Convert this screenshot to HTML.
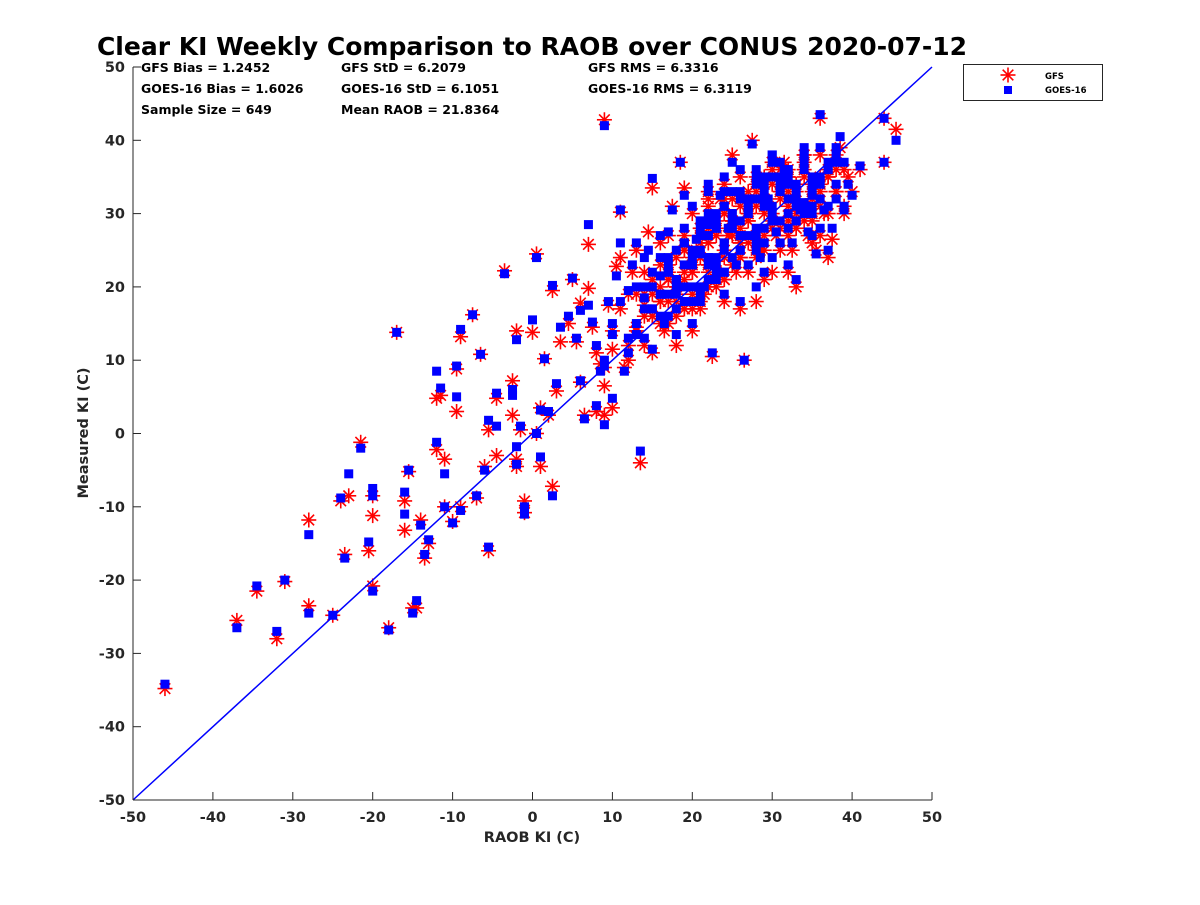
<!DOCTYPE html>
<html><head><meta charset="utf-8"><style>
body{margin:0;background:#fff;}
svg text{font-family:"DejaVu Sans","Liberation Sans",sans-serif;font-weight:bold;fill:#262626;}
</style></head><body>
<svg id="chart" width="1200" height="900" xmlns="http://www.w3.org/2000/svg">
<rect width="1200" height="900" fill="#fff"/>
<text x="532" y="55" font-size="25" text-anchor="middle" style="fill:#000">Clear KI Weekly Comparison to RAOB over CONUS 2020-07-12</text>
<g id="plot"></g>
<g id="axes"></g>
<g font-size="12.5">
<text x="141" y="72" style="fill:#000">GFS Bias = 1.2452</text>
<text x="141" y="93" style="fill:#000">GOES-16 Bias = 1.6026</text>
<text x="141" y="114" style="fill:#000">Sample Size = 649</text>
<text x="341" y="72" style="fill:#000">GFS StD = 6.2079</text>
<text x="341" y="93" style="fill:#000">GOES-16 StD = 6.1051</text>
<text x="341" y="114" style="fill:#000">Mean RAOB = 21.8364</text>
<text x="588" y="72" style="fill:#000">GFS RMS = 6.3316</text>
<text x="588" y="93" style="fill:#000">GOES-16 RMS = 6.3119</text>
</g>
<g>
<rect x="963.5" y="64.5" width="139" height="36" fill="#fff" stroke="#262626" stroke-width="1"/>
<g id="leg-gfs"></g>
<text x="1045" y="79" font-size="8.5" style="fill:#000">GFS</text>
<rect x="1004" y="86" width="8" height="8" fill="#0000ff"/>
<text x="1045" y="93" font-size="8.5" style="fill:#000">GOES-16</text>
</g>
</svg>
<script>
// Data (RAOB KI, GFS KI, GOES-16 KI)
const raob = [-46,-37,-34.5,-32,-31,-28,-28,-25,-24,-23.5,-23,-21.5,-20.5,-20,-20,-20,-18,-17,-16,-16,-15.5,-15,-14.5,-14,-13.5,-13,-12,-12,-11.5,-11,-11,-10,-9.5,-9.5,-9,-9,-7.5,-7,-6.5,-6,-5.5,-5.5,-4.5,-4.5,-3.5,-2.5,-2.5,-2,-2,-2,-1.5,-1,-1,0,0.5,0.5,1,1,1.5,2,2.5,2.5,3,3.5,4.5,5,5.5,6,6,6.5,7,7,7.5,8,8.5,9,9,9,9.5,10,10,10.5,11,11,11.5,12,12.5,13,13.5,14,14.5,15,15,16,16.5,17,17.5,18,18.5,19,19,20,20.5,21,21.5,22,22.5,23,23.5,24,24.5,25,25.5,26,26.5,27,27.5,28,28.5,29,29.5,30,30.5,31,31.5,32,32.5,33,33.5,34,34.5,35,35.5,36,36.5,37,37.5,38,38.5,39,39.5,40,41,44,44,45.5,
20,21,22,23,24,25,26,27,28,29,30,31,32,33,34,35,26,24,22,18,19,17,16,15,14,13,36,
18,19,20,21,22,23,24,25,26,27,28,29,30,31,32,33,34,35,36,37,38,
17,18,19,20,21,22,23,24,25,26,27,28,29,30,31,32,33,34,35,36,37,38,39,
16,17,18,19,20,21,22,23,24,25,26,27,28,29,30,31,32,33,34,35,
12,13,14,15,16,17,18,19,20,21,22,23,24,25,26,27,28,29,30,31,32,33,34,35,36,37,38,
14,15,16,17,18,19,20,21,22,23,24,25,26,27,28,29,30,
8,9,10,11,12,13,14,15,16,17,18,19,20,21,22,
22,24,26,28,30,32,34,36,38,21,23,25,27,29,31,33,35,37,39,
20,22,24,26,28,30,32,34,36];
const gfs = [-34.8,-25.5,-21.5,-28,-20.2,-23.5,-11.8,-24.8,-9.2,-16.5,-8.5,-1.2,-16,-11.2,-8.5,-20.8,-26.5,13.8,-13.2,-9.2,-5.2,-23.8,-23.8,-11.8,-17,-15,-2.2,4.8,5.2,-3.5,-10,-12,3,8.8,13.2,-10,16.2,-8.8,10.8,-4.5,0.5,-16,-3,4.8,22.2,7.2,2.5,-4.5,-3.5,14,0.5,-9.2,-10.8,13.8,0,24.5,3.5,-4.5,10.2,2.5,19.5,-7.2,5.8,12.5,15,21,12.5,17.8,7,2.5,25.8,19.8,14.5,3,9.5,2.5,6.5,42.8,17.5,3.5,11.5,22.8,30.2,24,9,19,22,14.5,-4,17.5,27.5,11,33.5,20,14,27,31,12,37,33.5,21,14,25,28,19,31,10.5,23.5,32,18,27,38,22,17,10,29,40,18,25,35,31,22,27,33,37,29,25,34,31,38,27,32,25,35,30,36,26.5,33,39,31,35,33,36,37,43,41.5,
22,24,26,20,25,29,24,33,27,21,30,25,36,28,31,29,27,30,28,24,27,22,26,19,22,25,43,
16,17,19,18,22,21,25,23,28,26,31,30,34,32,35,33,36,34,38,35,37,
18,20,22,24,26,23,28,30,27,32,29,34,31,36,33,35,30,37,32,34,30,33,36,
15,21,19,25,17,27,23,29,21,32,26,30,24,34,28,36,27,31,29,33,
10,14,12,16,18,15,20,17,23,19,26,22,21,28,24,30,26,32,29,34,31,28,35,30,33,35,38,
19,16,23,21,18,25,22,28,20,27,24,29,26,31,33,27,37,
11,9,14,17,12,19,16,21,18,23,20,25,22,17,28,
32,34,31,35,37,33,38,31,36,24,27,29,22,25,28,20,26,24,30,
30,33,32,35,25,28,22,30,27];
const goes = [-34.2,-26.5,-20.8,-27,-20,-24.5,-13.8,-24.8,-8.8,-17,-5.5,-2,-14.8,-8.5,-7.5,-21.5,-26.8,13.8,-11,-8,-5,-24.5,-22.8,-12.5,-16.5,-14.5,-1.2,8.5,6.2,-5.5,-10,-12.2,5,9.2,14.2,-10.5,16.2,-8.5,10.8,-5,1.8,-15.5,1,5.5,21.8,6,5.2,-4.2,-1.8,12.8,1,-10,-11,15.5,0,24,3.2,-3.2,10.2,3,20.2,-8.5,6.8,14.5,16,21.2,13,16.8,7.2,2,28.5,17.5,15.2,3.8,8.5,1.2,9.2,42,18,4.8,13.5,21.5,30.5,26,8.5,19.5,23,13.5,-2.4,18.5,25,11.5,34.8,21.5,15,27.5,30.5,13.5,37,32.5,20,15,26.5,29,20,30,11,24,32.5,19,28,37,23,18,10,30,39.5,20,24,34,32,24,27.5,33.5,36,30,26,33,30.5,38,27.5,32.5,24.5,34.5,30.5,37,28,32,40.5,30.5,34,32.5,36.5,37,43,40,
23,24.5,27,21,26,28,25,32,28,22,31,26,35,29,31.5,30,27,31,28.5,25,28,23,27,20,24,26,43.5,
17,18,20,19,23,22,26,24,29,27,32,31,35,33,36,34,37,35,39,36,38,
19,21,23,25,27,24,29,31,28,33,30,35,32,37,34,36,31,38,33,35,31,34,37,
16,22,20,26,18,28,24,30,22,33,27,31,25,35,29,37,28,32,30,34,
11,15,13,17,19,16,21,18,24,20,27,23,22,29,25,31,27,33,30,35,32,29,36,31,34,36,39,
20,17,24,22,19,26,23,29,21,28,25,30,27,32,34,28,38,
12,10,15,18,13,20,17,22,19,24,21,26,23,18,29,
33,35,32,36,38,34,39,32,37,25,28,30,23,26,29,21,27,25,31,
31,34,33,36,26,29,23,31,28];
const xTicks = [-50,-40,-30,-20,-10,0,10,20,30,40,50];
const yTicks = [-50,-40,-30,-20,-10,0,10,20,30,40,50];

const X0=133,X1=932,Y0=800,Y1=67;
const xs = v => X0 + (v+50)/100*(X1-X0);
const ys = v => Y0 - (v+50)/100*(Y0-Y1);
const NS="http://www.w3.org/2000/svg";
function mk(tag, attrs, parent){const e=document.createElementNS(NS,tag);for(const k in attrs)e.setAttribute(k,attrs[k]);parent.appendChild(e);return e;}
const plot=document.getElementById('plot'), axes=document.getElementById('axes');

function star(cx,cy,r,parent){
  const g=mk('g',{stroke:'#ff0000','stroke-width':1.6},parent);
  for(let i=0;i<4;i++){const a=i*Math.PI/4;mk('line',{x1:cx-r*Math.cos(a),y1:cy-r*Math.sin(a),x2:cx+r*Math.cos(a),y2:cy+r*Math.sin(a)},g);}
  return g;
}
const n=Math.min(raob.length,gfs.length,goes.length);
for(let i=0;i<n;i++){
  const g=star(xs(raob[i]),ys(gfs[i]),7.5,plot);
  
  
}
for(let i=0;i<n;i++){
  const r=mk('rect',{x:xs(raob[i])-4.5,y:ys(goes[i])-4.5,width:9,height:9,fill:'#0000ff'},plot);
  
  
}
const dl=mk('line',{x1:xs(-50),y1:ys(-50),x2:xs(50),y2:ys(50),stroke:'#0000ff','stroke-width':1.5},plot);



const lg=star(1008,75,7.5,document.getElementById('leg-gfs'));



const ax=mk('line',{x1:X0,y1:Y0,x2:X1,y2:Y0,stroke:'#262626','stroke-width':1},axes);


const ay=mk('line',{x1:X0,y1:Y0,x2:X0,y2:Y1,stroke:'#262626','stroke-width':1},axes);


xTicks.forEach(v=>{
  mk('line',{x1:xs(v),y1:Y0,x2:xs(v),y2:Y0-8,stroke:'#262626'},axes);
  const t=mk('text',{x:xs(v),y:Y0+22,'font-size':14.5,'text-anchor':'middle'},axes);
  t.textContent=v;
  
  
});
yTicks.forEach(v=>{
  mk('line',{x1:X0,y1:ys(v),x2:X0+8,y2:ys(v),stroke:'#262626'},axes);
  const t=mk('text',{x:X0-8,y:ys(v)+5,'font-size':14.5,'text-anchor':'end'},axes);
  t.textContent=v;
  
  
});
const xt=mk('text',{x:532,y:842,'font-size':14.5,'text-anchor':'middle'},axes);
xt.textContent='RAOB KI (C)';


const yt=mk('text',{x:0,y:0,'font-size':14.5,'text-anchor':'middle',transform:'translate(88,433) rotate(-90)'},axes);
yt.textContent='Measured KI (C)';


</script>
</body></html>
